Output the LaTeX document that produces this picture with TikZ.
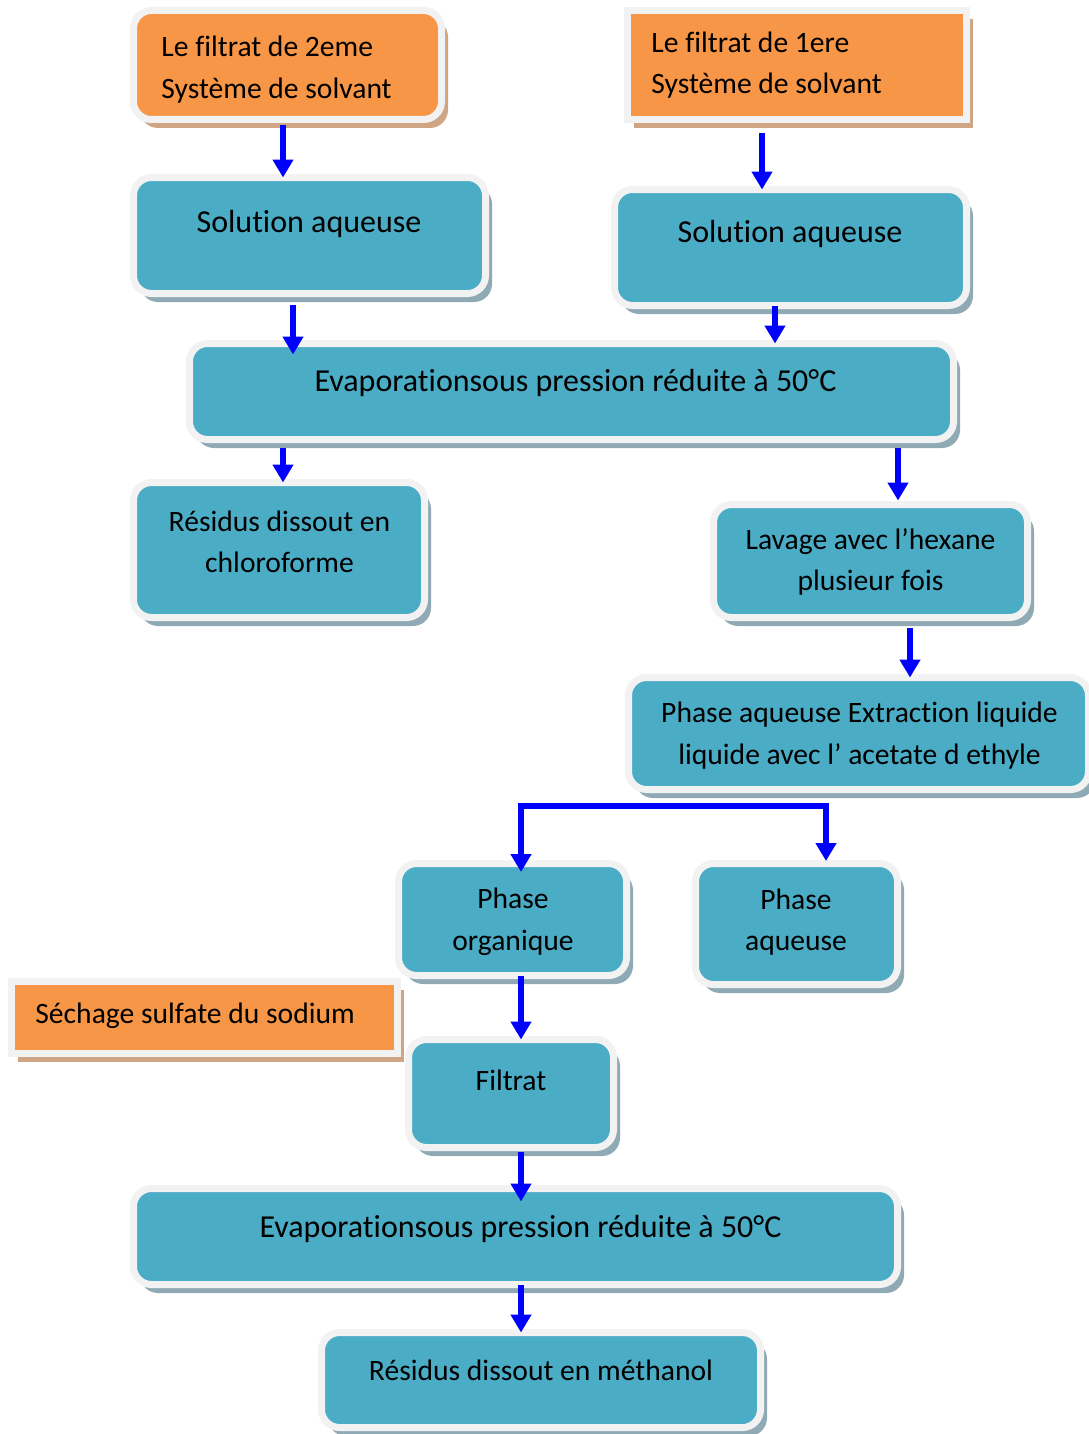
\documentclass[tikz,border=0pt]{standalone}
\usepackage{fontspec}
\setmainfont{Carlito}[Ligatures=NoCommon]
\usetikzlibrary{arrows.meta,shadows}
\definecolor{tealbox}{HTML}{4BACC6}
\definecolor{orangebox}{HTML}{F79646}
\definecolor{ringgray}{HTML}{F2F2F2}
\definecolor{tealshadow}{HTML}{8FAAB4}
\definecolor{orangeshadow}{HTML}{D0A583}
\definecolor{flowblue}{HTML}{0000FF}
\tikzset{
  shadowed/.style={drop shadow={shadow xshift=3.25pt,shadow yshift=-4.25pt,fill=#1,opacity=1}},
  box/.style={draw=ringgray,line width=3.5pt,fill=tealbox,rounded corners=9pt,inner sep=0pt,outer sep=0pt,shadowed=tealshadow},
  obox/.style={draw=ringgray,line width=3.5pt,fill=orangebox,rounded corners=9pt,inner sep=0pt,outer sep=0pt,shadowed=orangeshadow},
  txt/.style={font=\fontsize{14.8}{20.75}\selectfont,align=center,inner sep=0pt},
  bigtxt/.style={txt,font=\fontsize{16}{20.75}\selectfont},
  flow/.style={draw=flowblue,line width=2.75pt,-{Triangle[width=10pt,length=9pt]}}
}
\begin{document}
\begin{tikzpicture}[x=0.5pt,y=-0.5pt]
\useasboundingbox (0,0) rectangle (1088,1434);
\node[obox,minimum width=154pt,minimum height=54.5pt] (filt2) at (287.5,65) {};
\node[obox,sharp corners,minimum width=169.5pt,minimum height=54.5pt] (filt1) at (797,65) {};
\node[box,minimum width=176pt,minimum height=58pt] (sol2) at (309.5,235.5) {};
\node[box,minimum width=176pt,minimum height=58pt] (sol1) at (790.5,247.5) {};
\node[box,minimum width=382pt,minimum height=48pt] (evap1) at (571.5,391.5) {};
\node[box,minimum width=145.5pt,minimum height=67.5pt] (chloro) at (279,550) {};
\node[box,minimum width=157pt,minimum height=56.5pt] (hexane) at (870.5,561) {};
\node[box,minimum width=230pt,minimum height=56pt] (extract) at (858.5,733.5) {};
\node[box,minimum width=114pt,minimum height=56pt] (porg) at (512.5,919.5) {};
\node[box,minimum width=101pt,minimum height=60.5pt] (paq) at (796.5,924) {};
\node[obox,sharp corners,minimum width=193pt,minimum height=36pt] (sechage) at (204.5,1017.5) {};
\node[box,minimum width=102.5pt,minimum height=54pt] (filtrat) at (511,1093.5) {};
\node[box,minimum width=382pt,minimum height=48pt] (evap2) at (515.5,1236.5) {};
\node[box,minimum width=219.5pt,minimum height=47.5pt] (metha) at (541,1380) {};

\node[txt,align=left,anchor=west] (filt2t) at (161,69.7) {Le filtrat de 2eme\\Système de solvant};
\node[txt,align=left,anchor=west] (filt1t) at (651,65) {Le filtrat de 1ere\\Système de solvant};
\node[bigtxt] (sol2t) at (309,223.5) {Solution aqueuse};
\node[bigtxt] (sol1t) at (790,234) {Solution aqueuse};
\node[bigtxt] (evap1t) at (575.5,382.5) {Evaporationsous pression réduite à 50°C};
\node[txt] (chlorot) at (279.5,542) {Résidus dissout en\\chloroforme};
\node[txt] (hexanet) at (870.5,562) {Lavage avec l’hexane\\plusieur fois};
\node[txt] (extractt) at (859.5,735.5) {Phase aqueuse Extraction liquide\\liquide avec l’ acetate d ethyle};
\node[txt] (porgt) at (513,922) {Phase\\organique};
\node[txt] (paqt) at (796,922) {Phase\\aqueuse};
\node[txt,anchor=west] (sechaget) at (35,1015.5) {Séchage sulfate du sodium};
\node[txt] (filtratt) at (511,1080) {Filtrat};
\node[bigtxt] (evap2t) at (520.5,1228.5) {Evaporationsous pression réduite à 50°C};
\node[txt] (methat) at (541,1370) {Résidus dissout en méthanol};

\coordinate (branch) at (673.5,806);
\draw[flow,shorten <=3pt] ([xshift=-2.25pt]filt2.south) -- ([xshift=-2.25pt]filt2.south |- sol2.north);
\draw[flow,shorten <=7pt] ([xshift=-17.5pt]filt1.south) -- ([xshift=-17.5pt]filt1.south |- sol1.north);
\draw[flow,shorten <=5.5pt,shorten >=-5.5pt] ([xshift=-8.25pt]sol2.south) -- ([xshift=-8.25pt]sol2.south |- evap1.north);
\draw[flow,shorten <=0pt] ([xshift=-7.75pt]sol1.south) -- ([xshift=-7.75pt]sol1.south |- evap1.north);
\draw[flow,shorten <=4pt] ([xshift=2pt]chloro.north |- evap1.south) -- ([xshift=2pt]chloro.north);
\draw[flow,shorten <=4pt,shorten >=2pt] ([xshift=13.75pt]hexane.north |- evap1.south) -- ([xshift=13.75pt]hexane.north);
\draw[flow,shorten <=5pt] ([xshift=19.75pt]hexane.south) -- ([xshift=19.75pt]hexane.south |- extract.north);
\draw[flow,{Triangle[width=10pt,length=9pt]}-{Triangle[width=10pt,length=9pt]},shorten <=-4.25pt,shorten >=1.25pt]
  ([xshift=4.25pt]porg.north) |- (branch) -| ([xshift=14.75pt]paq.north);
\draw[flow] ([xshift=4.25pt]porg.south) -- ([xshift=4.25pt]porg.south |- filtrat.north);
\draw[flow,shorten <=2pt,shorten >=-6.5pt] ([xshift=5pt]filtrat.south) -- ([xshift=5pt]filtrat.south |- evap2.north);
\draw[flow] ([xshift=-10pt]metha.north |- evap2.south) -- ([xshift=-10pt]metha.north);
\end{tikzpicture}
\end{document}
